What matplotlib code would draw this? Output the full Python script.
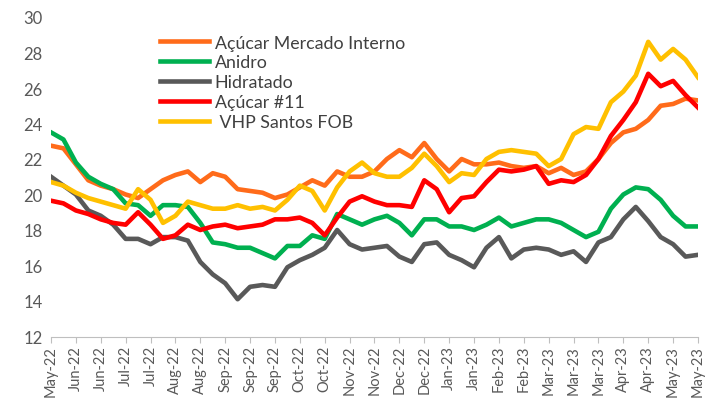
import numpy as np
import pandas as pd
import matplotlib
matplotlib.use("Agg")
import matplotlib.pyplot as plt
import matplotlib.dates as mdates

plt.rcParams['font.family'] = ['Lato', 'DejaVu Sans']

# weekly readings, 26 May 2022 to 25 May 2023
dates = pd.date_range("2022-05-26", "2023-05-25", freq="7D")

acucar_mi = [22.75, 22.6, 21.7, 20.8, 20.5, 20.3, 20.0, 19.8, 20.3, 20.8,
             21.1, 21.3, 20.7, 21.2, 21.0, 20.3, 20.2, 20.1, 19.8, 20.0,
             20.4, 20.8, 20.5, 21.3, 21.0, 21.0, 21.3, 22.0, 22.5, 22.1,
             22.9, 22.0, 21.3, 22.0, 21.7, 21.7, 21.8, 21.6, 21.5, 21.6,
             21.2, 21.5, 21.1, 21.3, 22.0, 22.9, 23.5, 23.7, 24.2, 25.0,
             25.1, 25.4, 25.3]
anidro = [23.5, 23.1, 21.8, 21.0, 20.6, 20.3, 19.5, 19.4, 18.8, 19.4,
          19.4, 19.3, 18.4, 17.3, 17.2, 17.0, 17.0, 16.7, 16.4, 17.1,
          17.1, 17.7, 17.5, 18.9, 18.6, 18.3, 18.6, 18.8, 18.4, 17.7,
          18.6, 18.6, 18.2, 18.2, 18.0, 18.3, 18.7, 18.2, 18.4, 18.6,
          18.6, 18.4, 18.0, 17.6, 17.9, 19.2, 20.0, 20.4, 20.3, 19.7,
          18.8, 18.2, 18.2]
hidratado = [21.0, 20.5, 20.0, 19.1, 18.8, 18.3, 17.5, 17.5, 17.2, 17.6,
             17.6, 17.4, 16.2, 15.5, 15.0, 14.1, 14.8, 14.9, 14.8, 15.9,
             16.3, 16.6, 17.0, 18.0, 17.2, 16.9, 17.0, 17.1, 16.5, 16.2,
             17.2, 17.3, 16.6, 16.3, 15.9, 17.0, 17.6, 16.4, 16.9, 17.0,
             16.9, 16.6, 16.8, 16.2, 17.3, 17.6, 18.6, 19.3, 18.5, 17.6,
             17.2, 16.5, 16.6]
acucar_11 = [19.65, 19.5, 19.1, 18.9, 18.6, 18.4, 18.3, 19.0, 18.3, 17.5,
             17.7, 18.3, 18.0, 18.2, 18.3, 18.1, 18.2, 18.3, 18.6, 18.6,
             18.7, 18.4, 17.7, 18.7, 19.6, 19.9, 19.6, 19.4, 19.4, 19.3,
             20.8, 20.3, 19.0, 19.8, 19.9, 20.7, 21.4, 21.3, 21.4, 21.6,
             20.6, 20.8, 20.7, 21.1, 22.0, 23.3, 24.2, 25.2, 26.8, 26.1,
             26.4, 25.6, 24.9]
vhp_santos = [20.7, 20.5, 20.1, 19.8, 19.6, 19.4, 19.2, 20.3, 19.7, 18.4,
              18.8, 19.6, 19.4, 19.2, 19.2, 19.4, 19.2, 19.3, 19.1, 19.7,
              20.5, 20.2, 19.1, 20.4, 21.3, 21.8, 21.2, 21.0, 21.0, 21.5,
              22.3, 21.6, 20.7, 21.2, 21.1, 22.0, 22.4, 22.5, 22.4, 22.3,
              21.6, 22.0, 23.4, 23.8, 23.7, 25.2, 25.8, 26.7, 28.6, 27.6,
              28.2, 27.6, 26.6]

series = [
    ("Açúcar Mercado Interno", acucar_mi, "#FF6B1A"),
    ("Anidro", anidro, "#00B050"),
    ("Hidratado", hidratado, "#595959"),
    ("Açúcar #11", acucar_11, "#FF0000"),
    (" VHP Santos FOB", vhp_santos, "#FFC000"),
]

fig = plt.figure(figsize=(7.18, 4.06), dpi=100)
ax = fig.add_axes([51 / 718, 1 - 337.5 / 406, 647 / 718, 319.5 / 406])

for name, vals, color in series:
    ax.plot(dates, vals, color=color, lw=3.3, label=name, solid_joinstyle='round')

ax.set_ylim(12, 30)
ax.set_yticks(np.arange(12, 31, 2))
ax.set_xlim(dates[0], dates[-1])
ax.set_xticks(pd.date_range("2022-05-26", "2023-05-25", freq="14D"))
ax.xaxis.set_major_formatter(mdates.DateFormatter('%b-%y'))

for s in ['top', 'right', 'left']:
    ax.spines[s].set_visible(False)
ax.spines['bottom'].set_color('#BFBFBF')
ax.spines['bottom'].set_linewidth(0.8)
ax.tick_params(axis='y', length=0, labelsize=12, labelcolor='#595959', pad=6)
ax.tick_params(axis='x', length=4, color='#BFBFBF', labelsize=10.5,
               labelcolor='#595959', labelrotation=90, pad=2)

ax.legend(loc='upper left', bbox_to_anchor=(0.168, 0.945), frameon=False,
          fontsize=12.8, borderpad=0, borderaxespad=0, handlelength=2.8,
          handletextpad=0.3, labelspacing=0.22, labelcolor='#404040')

fig.savefig("out.png", dpi=100)
